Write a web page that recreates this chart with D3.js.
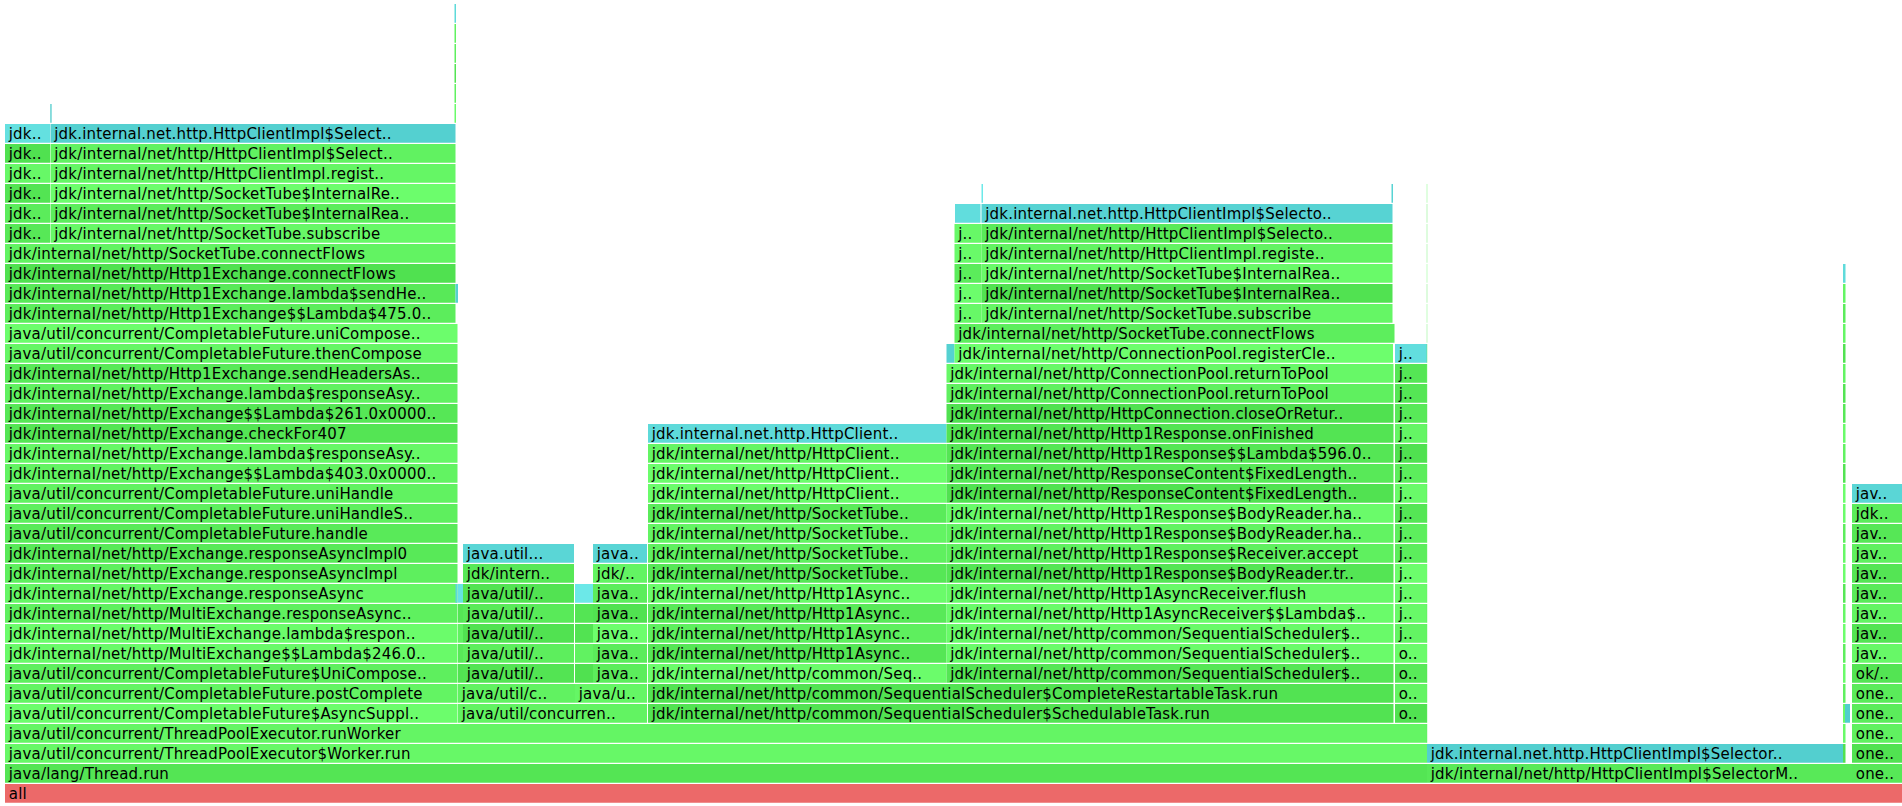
<!DOCTYPE html>
<html><head><meta charset="utf-8">
<script src="https://cdn.jsdelivr.net/npm/d3@7"></script>
<style>html,body{margin:0;padding:0;background:#fff;overflow:hidden}</style>
</head><body><svg id="chart" width="1902" height="806"></svg>
<script>
// ---- data (sample counts, depths, frame names as displayed) ----
const totalSamples = 1897;

const rootStack = ["all"];
const threadStack = ["java/lang/Thread.run", "java/util/concurrent/ThreadPoolExecutor$Worker.run", "java/util/concurrent/ThreadPoolExecutor.runWorker"];
const selectorManager = ["jdk/internal/net/http/HttpClientImpl$SelectorM.."];
const selectorInlined = ["jdk.internal.net.http.HttpClientImpl$Selector.."];
const oneColumn = ["one..", "one..", "one..", "one..", "one..", "ok/..", "jav..", "jav..", "jav..", "jav..", "jav..", "jav..", "jav..", "jdk..", "jav.."];
const exchangeStack = [
  "java/util/concurrent/CompletableFuture$AsyncSuppl..",
  "java/util/concurrent/CompletableFuture.postComplete",
  "java/util/concurrent/CompletableFuture$UniCompose..",
  "jdk/internal/net/http/MultiExchange$$Lambda$246.0..",
  "jdk/internal/net/http/MultiExchange.lambda$respon..",
  "jdk/internal/net/http/MultiExchange.responseAsync..",
  "jdk/internal/net/http/Exchange.responseAsync",
  "jdk/internal/net/http/Exchange.responseAsyncImpl",
  "jdk/internal/net/http/Exchange.responseAsyncImpl0",
  "java/util/concurrent/CompletableFuture.handle",
  "java/util/concurrent/CompletableFuture.uniHandleS..",
  "java/util/concurrent/CompletableFuture.uniHandle",
  "jdk/internal/net/http/Exchange$$Lambda$403.0x0000..",
  "jdk/internal/net/http/Exchange.lambda$responseAsy..",
  "jdk/internal/net/http/Exchange.checkFor407",
  "jdk/internal/net/http/Exchange$$Lambda$261.0x0000..",
  "jdk/internal/net/http/Exchange.lambda$responseAsy..",
  "jdk/internal/net/http/Http1Exchange.sendHeadersAs..",
  "java/util/concurrent/CompletableFuture.thenCompose",
  "java/util/concurrent/CompletableFuture.uniCompose.."
];
const connectStack = [
  "jdk/internal/net/http/Http1Exchange$$Lambda$475.0..",
  "jdk/internal/net/http/Http1Exchange.lambda$sendHe..",
  "jdk/internal/net/http/Http1Exchange.connectFlows",
  "jdk/internal/net/http/SocketTube.connectFlows"
];
const leftShort = ["jdk..", "jdk..", "jdk..", "jdk..", "jdk..", "jdk.."];
const leftSubscribe = [
  "jdk/internal/net/http/SocketTube.subscribe",
  "jdk/internal/net/http/SocketTube$InternalRea..",
  "jdk/internal/net/http/SocketTube$InternalRe..",
  "jdk/internal/net/http/HttpClientImpl.regist..",
  "jdk/internal/net/http/HttpClientImpl$Select..",
  "jdk.internal.net.http.HttpClientImpl$Select.."
];
const asyncBase = ["java/util/concurren.."];
const asyncLeftTop = ["java/util/c.."];
const asyncRightTop = ["java/u.."];
const asyncLeft = ["java/util/..", "java/util/..", "java/util/..", "java/util/..", "java/util/..", "jdk/intern..", "java.util..."];
const asyncRight = ["java..", "java..", "java..", "java..", "java..", "jdk/..", "java.."];
const schedulerBase = [
  "jdk/internal/net/http/common/SequentialScheduler$SchedulableTask.run",
  "jdk/internal/net/http/common/SequentialScheduler$CompleteRestartableTask.run"
];
const readerStack = [
  "jdk/internal/net/http/common/Seq..",
  "jdk/internal/net/http/Http1Async..", "jdk/internal/net/http/Http1Async..",
  "jdk/internal/net/http/Http1Async..", "jdk/internal/net/http/Http1Async..",
  "jdk/internal/net/http/SocketTube..", "jdk/internal/net/http/SocketTube..",
  "jdk/internal/net/http/SocketTube..", "jdk/internal/net/http/SocketTube..",
  "jdk/internal/net/http/HttpClient..", "jdk/internal/net/http/HttpClient..",
  "jdk/internal/net/http/HttpClient..", "jdk.internal.net.http.HttpClient.."
];
const responseStack = [
  "jdk/internal/net/http/common/SequentialScheduler$..",
  "jdk/internal/net/http/common/SequentialScheduler$..",
  "jdk/internal/net/http/common/SequentialScheduler$..",
  "jdk/internal/net/http/Http1AsyncReceiver$$Lambda$..",
  "jdk/internal/net/http/Http1AsyncReceiver.flush",
  "jdk/internal/net/http/Http1Response$BodyReader.tr..",
  "jdk/internal/net/http/Http1Response$Receiver.accept",
  "jdk/internal/net/http/Http1Response$BodyReader.ha..",
  "jdk/internal/net/http/Http1Response$BodyReader.ha..",
  "jdk/internal/net/http/ResponseContent$FixedLength..",
  "jdk/internal/net/http/ResponseContent$FixedLength..",
  "jdk/internal/net/http/Http1Response$$Lambda$596.0..",
  "jdk/internal/net/http/Http1Response.onFinished",
  "jdk/internal/net/http/HttpConnection.closeOrRetur..",
  "jdk/internal/net/http/ConnectionPool.returnToPool",
  "jdk/internal/net/http/ConnectionPool.returnToPool"
];
const registerCleanup = ["jdk/internal/net/http/ConnectionPool.registerCle.."];
const poolConnect = ["jdk/internal/net/http/SocketTube.connectFlows"];
const poolShort = ["j..", "j..", "j..", "j..", "j.."];
const poolSubscribe = [
  "jdk/internal/net/http/SocketTube.subscribe",
  "jdk/internal/net/http/SocketTube$InternalRea..",
  "jdk/internal/net/http/SocketTube$InternalRea..",
  "jdk/internal/net/http/HttpClientImpl.registe..",
  "jdk/internal/net/http/HttpClientImpl$Selecto..",
  "jdk.internal.net.http.HttpClientImpl$Selecto.."
];
const oShort = ["o..", "o..", "o..", "o.."];
const jShort = ["j..", "j..", "j..", "j..", "j..", "j..", "j..", "j..", "j..", "j..", "j..", "j..", "j..", "j..", "j.."];
const unnamed = [];

// frame types: j = java (green), i = inlined (aqua), n = native/root (red)
// columns: [startSample, samples, firstDepth, depthCount, names, types]
const columns = [
  [0, 1897, 0, 1, rootStack, "n"],
  [0, 1422, 1, 3, threadStack, "j"],
  [1422, 425, 1, 1, selectorManager, "j"],
  [1422, 416, 2, 1, selectorInlined, "i"],
  [1838, 2.5, 2, 25, unnamed, "jjjjjjjjjjjjjjjjjjjjjjjji"],
  [1840, 5, 4, 1, unnamed, "i"],
  [1847, 55, 1, 15, oneColumn, "jjjjjjjjjjjjjji"],
  [0, 452.5, 4, 20, exchangeStack, "j"],
  [450.5, 2, 10, 1, unnamed, "i"],
  [0, 450.5, 24, 4, connectStack, "j"],
  [450.5, 2.5, 25, 1, unnamed, "i"],
  [0, 45, 28, 6, leftShort, "jjjjji"],
  [45.5, 405, 28, 6, leftSubscribe, "jjjjji"],
  [449.5, 1.5, 34, 6, unnamed, "jjjjji"],
  [45.3, 1.3, 34, 1, unnamed, "i"],
  [453, 189, 4, 1, asyncBase, "j"],
  [453, 117, 5, 1, asyncLeftTop, "j"],
  [570, 72, 5, 1, asyncRightTop, "j"],
  [453, 5, 6, 5, unnamed, "jjjji"],
  [458, 111, 6, 7, asyncLeft, "jjjjjji"],
  [570, 18, 6, 5, unnamed, "jjjji"],
  [588, 54, 6, 7, asyncRight, "jjjjjji"],
  [643, 745.5, 4, 2, schedulerBase, "j"],
  [1390, 32, 4, 4, oShort, "j"],
  [1390, 32, 8, 15, jShort, "jjjjjjjjjjjjjji"],
  [643, 298.5, 6, 13, readerStack, "jjjjjjjjjjjji"],
  [941.5, 447, 6, 16, responseStack, "j"],
  [941.5, 8, 22, 1, unnamed, "i"],
  [949.5, 438.5, 22, 1, registerCleanup, "j"],
  [949.5, 440, 23, 1, poolConnect, "j"],
  [949.5, 27, 24, 5, poolShort, "j"],
  [950, 25.5, 29, 1, unnamed, "i"],
  [976.5, 411, 24, 6, poolSubscribe, "jjjjji"],
  [976.5, 1.5, 30, 1, unnamed, "i"],
  [1386.5, 1.5, 30, 1, unnamed, "i"],
  [1421.8, 0.4, 3, 28, unnamed, "j"]
];

// ---- layout ----
const svg = d3.select("#chart");
const x = d3.scaleLinear().domain([0, totalSamples]).range([5, 1902]);
const y = d3.scaleLinear().domain([0, 1]).range([784, 764]);
const rowH = 18.75;

const palette = { j: [0x50e150, 30, 30, 30], i: [0x50cccc, 30, 30, 30], n: [0xe15a5a, 30, 40, 40] };
function hash(s) {
  let h = 2166136261;
  for (let k = 0; k < s.length; k++) { h ^= s.charCodeAt(k); h = Math.imul(h, 16777619); }
  h ^= h >>> 13; h = Math.imul(h, 0x5bd1e995); h ^= h >>> 15;
  return (h >>> 0) / 4294967296;
}
function frameColor(type, key) {
  const p = palette[type];
  const v = hash(key);
  const r = ((p[0] >> 16) & 255) + Math.floor(p[1] * v);
  const g = ((p[0] >> 8) & 255) + Math.floor(p[2] * v);
  const b = (p[0] & 255) + Math.floor(p[3] * v);
  return d3.rgb(r, g, b).formatHex();
}

const frames = [];
columns.forEach(([start, samples, depth0, count, names, types], ci) => {
  for (let k = 0; k < count; k++) {
    frames.push({
      start, samples, depth: depth0 + k,
      name: names[k] || "",
      type: types[k] || types[types.length - 1],
      key: ci + ":" + k + ":" + (names[k] || "")
    });
  }
});

const g = svg.selectAll("g.frame").data(frames).join("g").attr("class", "frame");
g.append("rect")
  .attr("x", d => x(d.start))
  .attr("y", d => y(d.depth))
  .attr("width", d => x(d.start + d.samples) - x(d.start))
  .attr("height", rowH)
  .attr("fill", d => frameColor(d.type, d.key));

g.filter(d => (x(d.start + d.samples) - x(d.start)) >= 26.25 && d.name)
  .append("text")
  .attr("x", d => x(d.start) + 3.75)
  .attr("y", d => y(d.depth) + 15)
  .attr("font-family", "Verdana, 'DejaVu Sans', sans-serif")
  .attr("font-size", "15px")
  .attr("letter-spacing", "0.2px")
  .attr("fill", "#000")
  .text(d => {
    const w = x(d.start + d.samples) - x(d.start);
    const chars = Math.floor(w / 8.75);
    return d.name.length <= chars ? d.name : d.name.substring(0, chars - 2) + "..";
  });
</script>
</body></html>
